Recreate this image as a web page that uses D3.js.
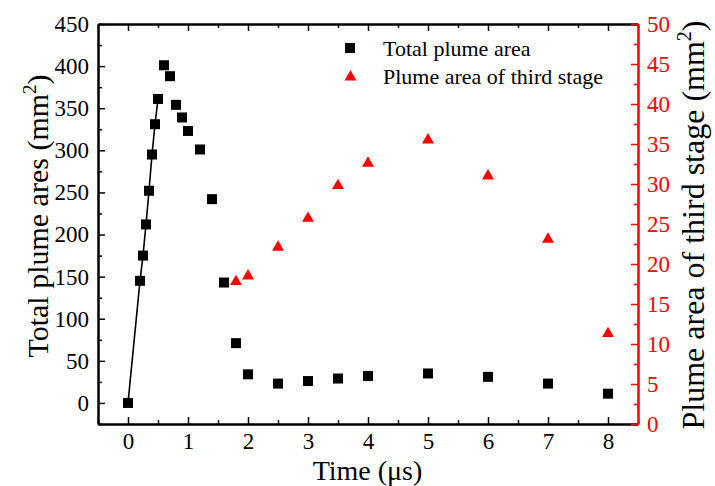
<!DOCTYPE html>
<html>
<head>
<meta charset="utf-8">
<script src="https://cdn.jsdelivr.net/npm/d3@7"></script>
<style>
  body { margin: 0; background: #fff; }
  svg text { font-family: "Liberation Serif", "Times New Roman", serif; }
</style>
</head>
<body>
<svg id="chart" width="715" height="486"></svg>
<script>
// Total plume area (mm^2) over time
const totalTime = [0, 0.2, 0.25, 0.3, 0.35, 0.4, 0.45, 0.5, 0.6, 0.7, 0.8, 0.9, 1.0, 1.2, 1.4, 1.6, 1.8, 2.0, 2.5, 3, 3.5, 4, 5, 6, 7, 8];
const totalArea = [0, 145, 175, 212, 252, 295, 331, 361, 401, 388, 354, 339, 323, 301, 242, 143, 71, 34, 23, 26, 29, 32, 35, 31, 23, 11];
// Plume area of the third stage (mm^2)
const thirdTime = [1.8, 2.0, 2.5, 3, 3.5, 4, 5, 6, 7, 8];
const thirdArea = [17.8, 18.5, 22.1, 25.7, 29.8, 32.6, 35.5, 31.0, 23.1, 11.3];
// Number of leading points joined by the rising line
const riseCount = 8;

const xTicks = [0, 1, 2, 3, 4, 5, 6, 7, 8];
const leftTicks = [0, 50, 100, 150, 200, 250, 300, 350, 400, 450];
const rightTicks = [0, 5, 10, 15, 20, 25, 30, 35, 40, 45, 50];

const svg = d3.select("#chart");
const L = 98, R = 638, T = 24, B = 424;
const red = "#ff0000";
const serif = "Liberation Serif";

const x = d3.scaleLinear().domain([-0.5, 8.5]).range([L, R]);
const yL = d3.scaleLinear().domain([-25, 450]).range([B, T]);
const yR = d3.scaleLinear().domain([0, 50]).range([B, T]);

const minorX = d3.range(-0.5, 8.51, 0.5).filter(v => !xTicks.includes(v));
const minorL = d3.range(-25, 451, 25).filter(v => !leftTicks.includes(v));
const minorR = d3.range(2.5, 50, 5);

// Bottom axis
const gB = svg.append("g").attr("transform", `translate(0,${B})`);
gB.call(d3.axisBottom(x).tickValues(xTicks).tickFormat(d3.format("d")).tickSizeInner(-7).tickSizeOuter(0).tickPadding(9));
gB.append("g").call(d3.axisBottom(x).tickValues(minorX).tickFormat("").tickSizeInner(-4).tickSizeOuter(0));
// Top axis
const gT = svg.append("g").attr("transform", `translate(0,${T})`);
gT.call(d3.axisTop(x).tickValues(xTicks).tickFormat("").tickSizeInner(-7).tickSizeOuter(0));
gT.append("g").call(d3.axisTop(x).tickValues(minorX).tickFormat("").tickSizeInner(-4).tickSizeOuter(0));
// Left axis
const gL = svg.append("g").attr("transform", `translate(${L},0)`);
gL.call(d3.axisLeft(yL).tickValues(leftTicks).tickFormat(d3.format("d")).tickSizeInner(-7).tickSizeOuter(0).tickPadding(9));
gL.append("g").call(d3.axisLeft(yL).tickValues(minorL).tickFormat("").tickSizeInner(-4).tickSizeOuter(0));
// Right axis (red)
const gR = svg.append("g").attr("transform", `translate(${R},0)`);
gR.call(d3.axisRight(yR).tickValues(rightTicks).tickFormat(d3.format("d")).tickSizeInner(-7).tickSizeOuter(0).tickPadding(9));
gR.append("g").call(d3.axisRight(yR).tickValues(minorR).tickFormat("").tickSizeInner(-4).tickSizeOuter(0));

svg.selectAll(".domain").attr("stroke-width", 2);
svg.selectAll(".tick line").attr("stroke-width", 1.5);
[gB, gT, gL, gR].forEach(g => g.attr("font-family", serif).attr("font-size", 23));
[gB, gL].forEach(g => g.selectAll("text").attr("fill", "#000"));
gR.selectAll(".domain, .tick line").attr("stroke", red);
gR.selectAll("text").attr("fill", red);

// Rising line through the early points
const rise = totalTime.slice(0, riseCount).map((t, i) => [t, totalArea[i]]);
svg.append("path")
  .attr("d", d3.line().x(d => x(d[0])).y(d => yL(d[1]))(rise))
  .attr("fill", "none").attr("stroke", "#000").attr("stroke-width", 1.6);

// Square markers
const sq = 10;
svg.append("g").selectAll("rect")
  .data(totalTime.map((t, i) => [t, totalArea[i]]))
  .join("rect")
  .attr("x", d => x(d[0]) - sq / 2).attr("y", d => yL(d[1]) - sq / 2)
  .attr("width", sq).attr("height", sq).attr("fill", "#000");

// Triangle markers
const tri = d3.symbol().type(d3.symbolTriangle).size(62);
svg.append("g").selectAll("path")
  .data(thirdTime.map((t, i) => [t, thirdArea[i]]))
  .join("path")
  .attr("d", tri)
  .attr("transform", d => `translate(${x(d[0])},${yR(d[1])})`)
  .attr("fill", red);

// Legend
const lg = svg.append("g").attr("font-family", serif).attr("font-size", 22);
lg.append("rect").attr("x", 345).attr("y", 43).attr("width", 10).attr("height", 10).attr("fill", "#000");
lg.append("text").attr("x", 383).attr("y", 56).text("Total plume area");
lg.append("path").attr("d", tri).attr("transform", "translate(350.5,77)").attr("fill", red);
lg.append("text").attr("x", 383).attr("y", 84).text("Plume area of third stage");

// Axis titles
svg.append("text").attr("x", 367.5).attr("y", 479.5).attr("text-anchor", "middle")
  .attr("font-family", serif).attr("font-size", 28).text("Time (μs)");

const lt = svg.append("text").attr("text-anchor", "middle").attr("font-family", serif).attr("font-size", 30)
  .attr("transform", "translate(48,216) rotate(-90)");
lt.append("tspan").text("Total plume ares (mm");
lt.append("tspan").attr("font-size", 19).attr("dy", -12).text("2");
lt.append("tspan").attr("dy", 12).text(")");

const rt = svg.append("text").attr("text-anchor", "middle").attr("font-family", serif).attr("font-size", 32)
  .attr("transform", "translate(704,225) rotate(-90)");
rt.append("tspan").text("Plume area of third stage (mm");
rt.append("tspan").attr("font-size", 20).attr("dy", -13).text("2");
rt.append("tspan").attr("dy", 13).text(")");
</script>
</body>
</html>
